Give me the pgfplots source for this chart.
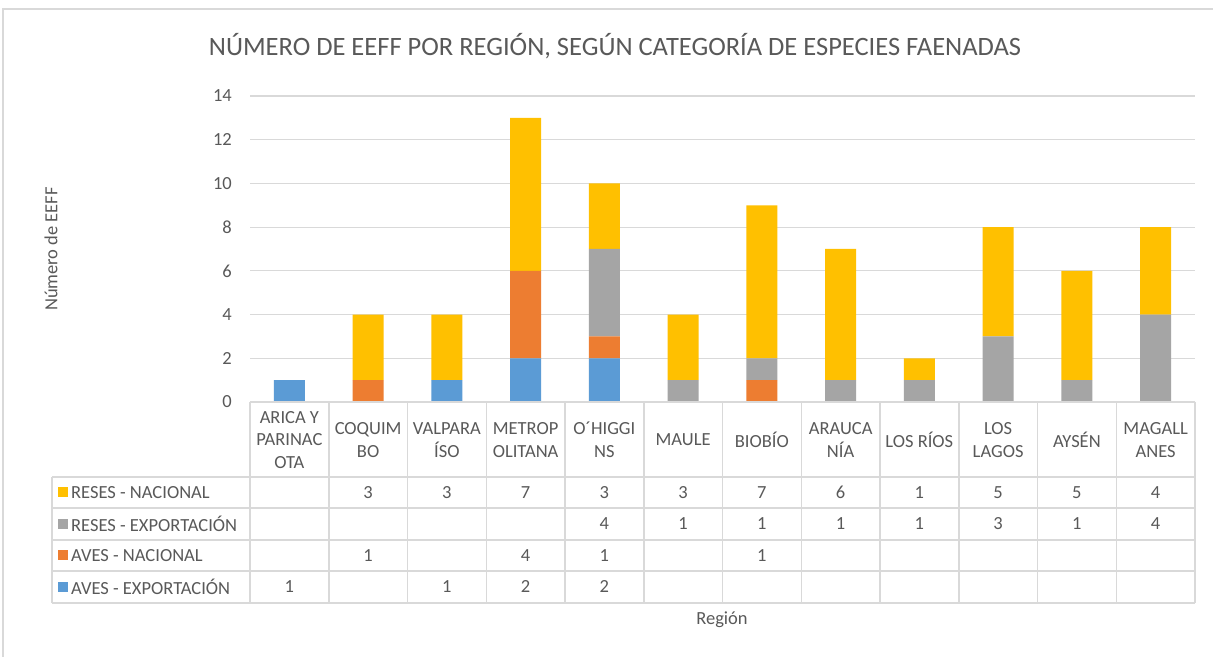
\documentclass[border=0pt]{standalone}
\usepackage{pgfplots}
\pgfplotsset{compat=1.18}
\usepackage{fontspec}
\setmainfont{Carlito}
\definecolor{cblue}{HTML}{5B9BD5}
\definecolor{corange}{HTML}{ED7D31}
\definecolor{cgray}{HTML}{A5A5A5}
\definecolor{cyellow}{HTML}{FFC000}
\definecolor{txt}{HTML}{595959}
\definecolor{gridc}{HTML}{D9D9D9}
\newcommand{\tf}{\fontsize{18.5bp}{22.5bp}\selectfont}
\begin{document}
\begin{tikzpicture}
\path[use as bounding box] (0,0) rectangle (1213bp,657bp);
\fill[white] (0,0) rectangle (1213bp,657bp);
\draw[gridc, line width=1.5bp] (3bp,-10bp) rectangle (1225bp,648bp);
\begin{axis}[
  at={(250bp,255bp)}, anchor=south west,
  scale only axis, width=945bp, height=306bp,
  ybar stacked, bar width=31bp,
  xmin=-0.5, xmax=11.5, ymin=0, ymax=14,
  ytick={0,2,...,14}, xtick=\empty,
  axis line style={draw=none},
  ymajorgrids, grid style={draw=gridc, line width=1.2bp},
  major tick length=0pt,
  /pgf/number format/assume math mode=true,
  yticklabel style={font=\tf, text=txt, inner sep=0pt, xshift=-18bp},
  clip=false,
]
\addplot[fill=cblue, draw=none] coordinates {(0,1) (1,0) (2,1) (3,2) (4,2) (5,0) (6,0) (7,0) (8,0) (9,0) (10,0) (11,0)};
\addplot[fill=corange, draw=none] coordinates {(0,0) (1,1) (2,0) (3,4) (4,1) (5,0) (6,1) (7,0) (8,0) (9,0) (10,0) (11,0)};
\addplot[fill=cgray, draw=none] coordinates {(0,0) (1,0) (2,0) (3,0) (4,4) (5,1) (6,1) (7,1) (8,1) (9,3) (10,1) (11,4)};
\addplot[fill=cyellow, draw=none] coordinates {(0,0) (1,3) (2,3) (3,7) (4,3) (5,3) (6,7) (7,6) (8,1) (9,5) (10,5) (11,4)};
\end{axis}
\begin{scope}[shift={(0bp,657bp)}, x=1bp, y=-1bp]
  \node[text=txt, font=\fontsize{26.5bp}{30bp}\selectfont, anchor=base] at (615,56) {NÚMERO DE EEFF POR REGIÓN, SEGÚN CATEGORÍA DE ESPECIES FAENADAS};
  \node[text=txt, font=\tf, rotate=90] at (51,249) {Número de EEFF};
  \node[text=txt, font=\tf] at (722,620) {Región};
  % table lines
  \draw[gridc, line width=1.5bp] (250,402) -- (1195,402);
  \foreach \yy in {477,508,540,571,603} \draw[gridc, line width=1.5bp] (52,\yy) -- (1195,\yy);
  \draw[gridc, line width=1.5bp] (52,477) -- (52,603);
  \foreach \k in {0,...,12} \draw[gridc, line width=1.5bp] ({250+78.75*\k},402) -- ({250+78.75*\k},603);
  % headers
  \foreach \k/\lab in {0/{ARICA Y\\PARINAC\\OTA},1/{COQUIM\\BO},2/{VALPARA\\ÍSO},3/{METROP\\OLITANA},4/{O´HIGGI\\NS},5/{MAULE},6/{BIOBÍO},7/{ARAUCA\\NÍA},8/{LOS RÍOS},9/{LOS\\LAGOS},10/{AYSÉN},11/{MAGALL\\ANES}}
    \node[text=txt, font=\tf, align=center, inner sep=0pt] at ({250+78.75*(\k+0.5)},440) {\lab};
  % row labels
  \foreach \yy/\c/\lab in {492.5/cyellow/RESES - NACIONAL,524/cgray/RESES - EXPORTACIÓN,555.5/corange/AVES - NACIONAL,587/cblue/AVES - EXPORTACIÓN} {
    \fill[\c] (58,\yy-5) rectangle (68,\yy+5);
    \node[text=txt, font=\tf, anchor=west, inner sep=0pt] at (71,\yy) {\lab};
  }
  % values
  \foreach \k/\v in {1/3,2/3,3/7,4/3,5/3,6/7,7/6,8/1,9/5,10/5,11/4}
    \node[text=txt, font=\tf, inner sep=0pt] at ({250+78.75*(\k+0.5)},492.5) {\v};
  \foreach \k/\v in {4/4,5/1,6/1,7/1,8/1,9/3,10/1,11/4}
    \node[text=txt, font=\tf, inner sep=0pt] at ({250+78.75*(\k+0.5)},524) {\v};
  \foreach \k/\v in {1/1,3/4,4/1,6/1}
    \node[text=txt, font=\tf, inner sep=0pt] at ({250+78.75*(\k+0.5)},555.5) {\v};
  \foreach \k/\v in {0/1,2/1,3/2,4/2}
    \node[text=txt, font=\tf, inner sep=0pt] at ({250+78.75*(\k+0.5)},587) {\v};
\end{scope}
\end{tikzpicture}
\end{document}
